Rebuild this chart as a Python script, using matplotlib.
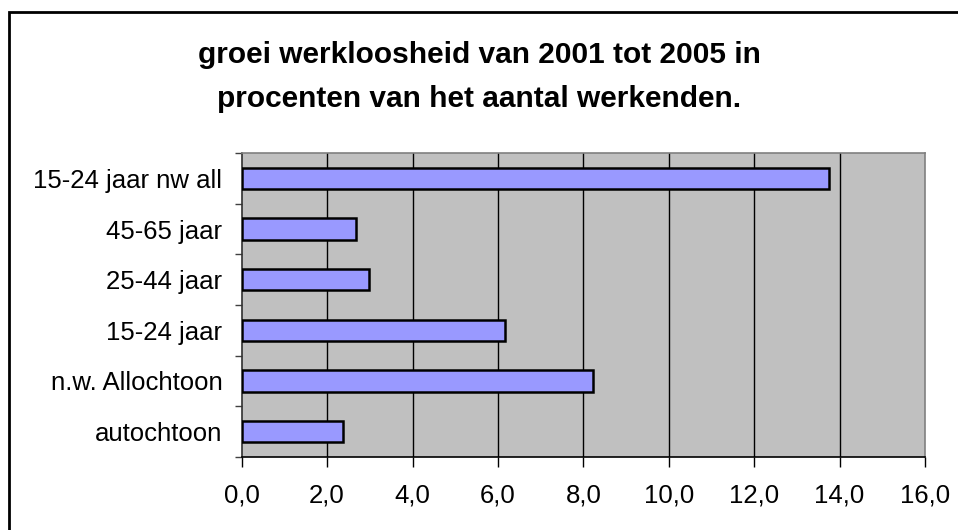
import matplotlib
matplotlib.use("Agg")
import matplotlib.pyplot as plt
from matplotlib.patches import Rectangle
from matplotlib.ticker import FixedLocator, FuncFormatter
import numpy as np

plt.rcParams['font.family'] = ['Liberation Sans', 'DejaVu Sans']

# data (bottom to top, as drawn)
categories = ['autochtoon', 'n.w. Allochtoon', '15-24 jaar', '25-44 jaar',
              '45-65 jaar', '15-24 jaar nw all']
values = [2.38, 8.22, 6.16, 2.99, 2.67, 13.76]
x_ticks = [0, 2, 4, 6, 8, 10, 12, 14, 16]

fig = plt.figure(figsize=(9.58, 5.30), dpi=100)

# outer chart border (only left and top edges visible in the picture)
fig.patches.append(Rectangle((9 / 958, -0.1), 1.2, 1 - 12 / 530 + 0.1,
                             transform=fig.transFigure, fill=False,
                             edgecolor='black', linewidth=2))

ax = fig.add_axes([241.7 / 958, 1 - 457 / 530, (925 - 241.7) / 958, (457 - 153) / 530])
ax.set_facecolor('#C0C0C0')

y = np.arange(len(categories))
ax.barh(y, values, height=0.42, color='#9999FF', edgecolor='black',
        linewidth=1.8, zorder=3)

ax.set_xlim(0, 16)
ax.set_ylim(-0.5, len(categories) - 0.5)

ax.set_xticks(x_ticks)
ax.xaxis.set_major_formatter(FuncFormatter(lambda v, p: f"{v:.1f}".replace('.', ',')))
for xv in x_ticks[1:-1]:
    ax.axvline(xv, color='black', linewidth=1, zorder=1)

ax.set_yticks(y)
ax.set_yticklabels(categories)
ax.yaxis.set_minor_locator(FixedLocator(np.arange(-0.5, len(categories), 1.0)))
ax.tick_params(axis='y', which='major', length=0, pad=14, labelsize=18.5)
ax.tick_params(axis='y', which='minor', length=5, width=1, direction='out', color='#404040')
ax.tick_params(axis='x', which='major', length=7, width=1, direction='out',
               pad=12, labelsize=18.5)

ax.spines['top'].set_color('#808080')
ax.spines['right'].set_color('#808080')
ax.spines['left'].set_color('#303030')
ax.spines['bottom'].set_color('black')
for s in ax.spines.values():
    s.set_linewidth(1.2)

fig.text(0.5, 1 - 55 / 530, 'groei werkloosheid van 2001 tot 2005 in',
         ha='center', va='center', fontsize=21.5, fontweight='bold')
fig.text(0.5, 1 - 99 / 530, 'procenten van het aantal werkenden.',
         ha='center', va='center', fontsize=21.5, fontweight='bold')

fig.savefig('out.png', dpi=100)
